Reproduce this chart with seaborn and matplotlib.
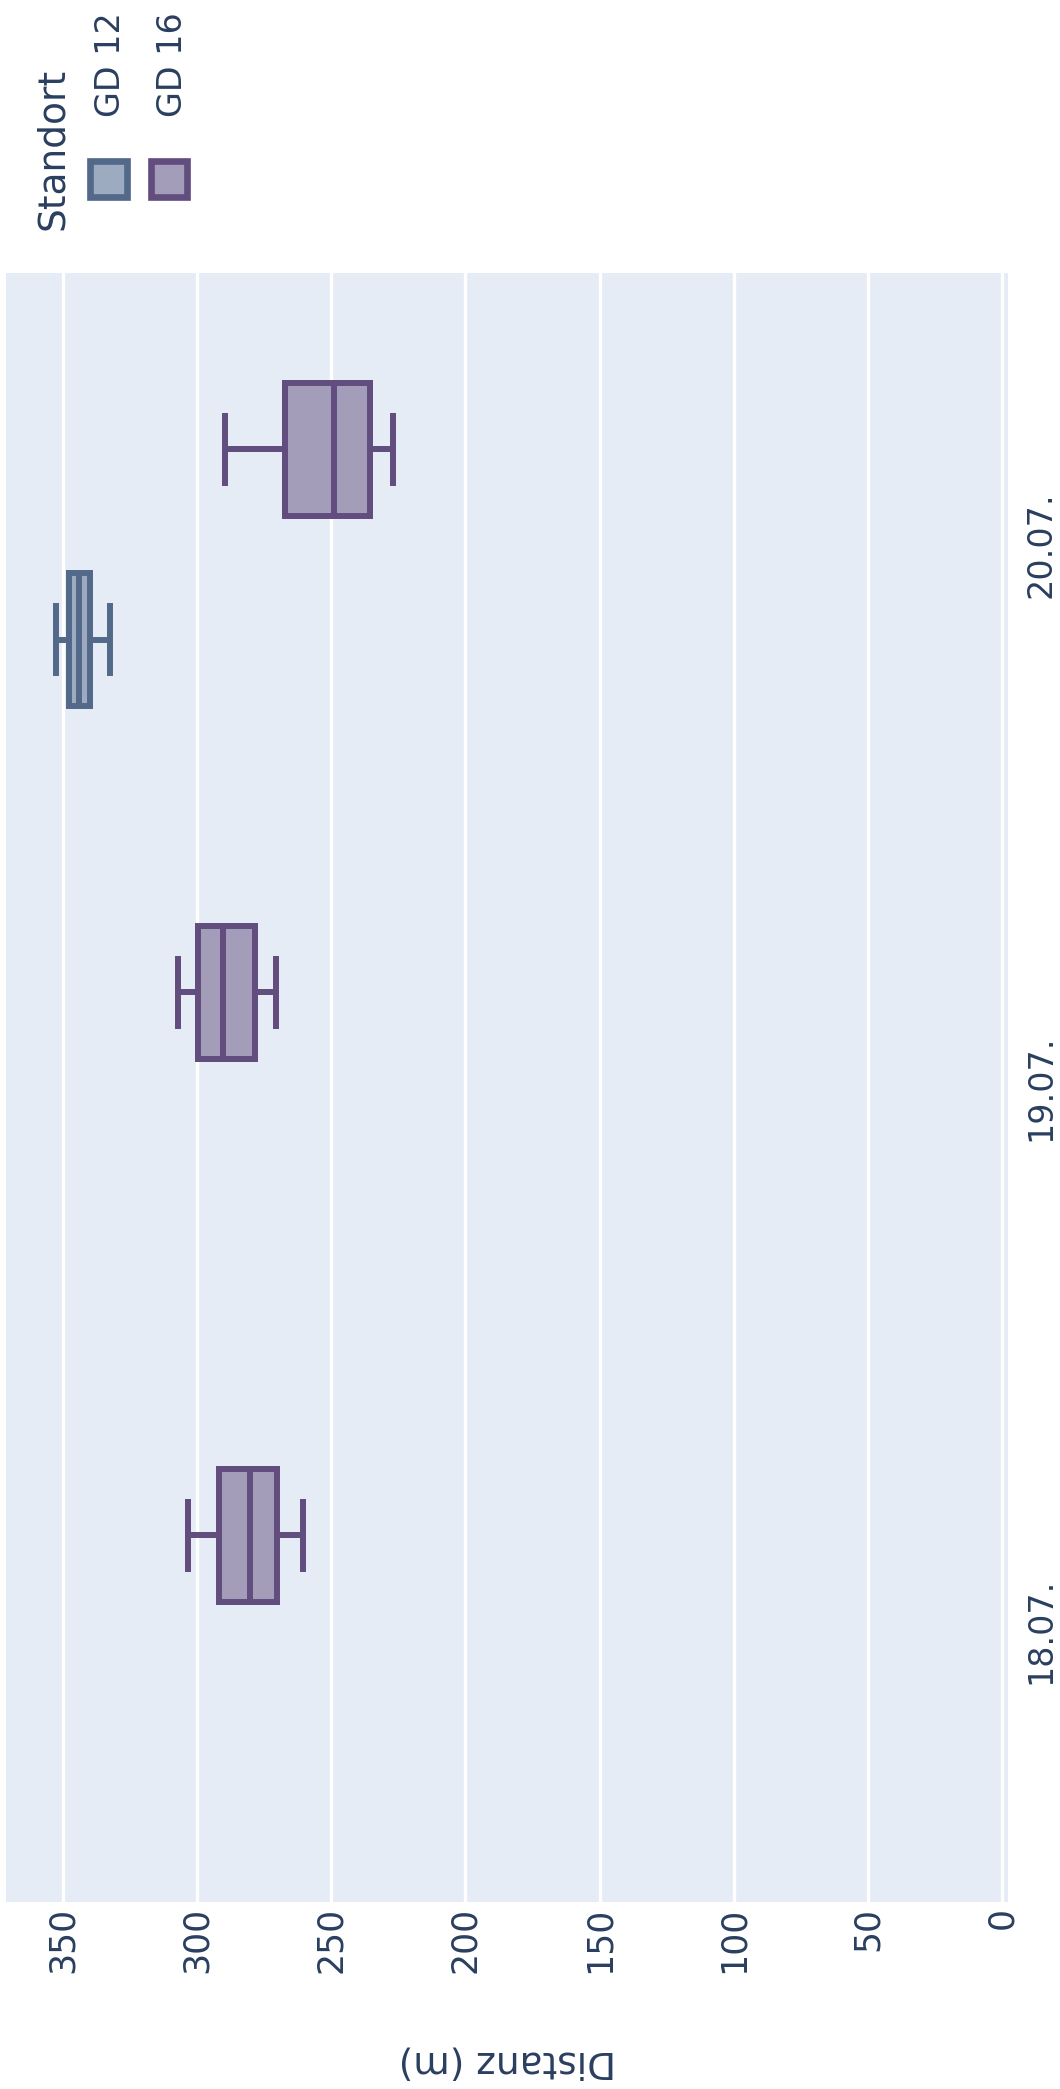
import numpy as np
import pandas as pd
import matplotlib
matplotlib.use("Agg")
import matplotlib.pyplot as plt
from matplotlib.patches import Rectangle
import seaborn as sns

# ---- data ----
dates = ["18.07.", "19.07.", "20.07."]
standorte = ["GD 12", "GD 16"]

# five-number summaries per box: (Standort, Datum, min, q1, median, q3, max)
box_standort = ["GD 16", "GD 16", "GD 16", "GD 12"]
box_datum = ["18.07.", "19.07.", "20.07.", "20.07."]
box_min = [260.4, 270.8, 227.1, 332.7]
box_q1 = [270.3, 278.4, 235.4, 340.0]
box_median = [280.5, 290.3, 249.0, 344.1]
box_q3 = [291.8, 299.8, 267.1, 347.9]
box_max = [303.6, 307.0, 289.6, 352.6]

x_ticks = [0, 50, 100, 150, 200, 250, 300, 350]

# ---- styling ----
bg = "#e5ecf6"
text_color = "#2a3f5f"
edge_colors = {"GD 12": "#52698a", "GD 16": "#614d7e"}


def mix(c, alpha=0.5):
    a = np.array(matplotlib.colors.to_rgb(c))
    b = np.array(matplotlib.colors.to_rgb(bg))
    return tuple(alpha * a + (1 - alpha) * b)


fill_colors = {k: mix(v) for k, v in edge_colors.items()}

rows = []
for s, d, a, b, c, e, f in zip(box_standort, box_datum, box_min, box_q1,
                               box_median, box_q3, box_max):
    for v in (a, b, c, e, f):
        rows.append({"Standort": s, "Datum": d, "Distanz": v})
df = pd.DataFrame(rows)

W, H = 1060, 2089
fig = plt.figure(figsize=(W / 100, H / 100), dpi=100)
fig.patch.set_facecolor("white")
left, right, top, bottom = 6, 1008, 273, 1902
ax = fig.add_axes([left / W, 1 - bottom / H, (right - left) / W, (bottom - top) / H])
ax.set_facecolor(bg)

for s in standorte:
    sub = df[df["Standort"] == s]
    sns.boxplot(data=sub, x="Distanz", y="Datum", hue="Standort",
                hue_order=standorte, order=dates, orient="h", dodge=True,
                width=0.7, gap=0.3, whis=(0, 100), saturation=1,
                palette=fill_colors, linecolor=edge_colors[s], linewidth=4.3,
                legend=False, ax=ax)

ax.set_xlim(371.3, -2.3)
ax.set_ylim(-0.5, 2.5)
ax.set_axisbelow(True)
ax.grid(axis="x", color="white", linewidth=2.4)
ax.grid(axis="y", visible=False)
for sp in ax.spines.values():
    sp.set_visible(False)

ax.set_xticks(x_ticks)
ax.set_xticklabels([str(t) for t in x_ticks])
ax.tick_params(axis="x", length=0, pad=3.5, labelsize=25, labelcolor=text_color,
               labelrotation=90)

ax.yaxis.tick_right()
ax.set_yticks(range(len(dates)))
ax.set_yticklabels(dates)
ax.tick_params(axis="y", length=0, pad=12, labelsize=24, labelcolor=text_color,
               labelrotation=90)
for lab in ax.get_yticklabels():
    lab.set_va("center")
ax.set_ylabel("")

ax.set_xlabel("Distanz (m)", fontsize=27, color=text_color, rotation=180)
ax.xaxis.set_label_coords(0.5, -0.0982)
ax.xaxis.label.set_va("center")
ax.xaxis.label.set_ha("center")

# ---- legend (rotated like the whole chart) ----
def fx(px):
    return px / W


def fy(py):
    return 1 - py / H


fig.text(fx(63), fy(230), "Standort", rotation=90, rotation_mode="anchor",
         ha="left", va="baseline", fontsize=27, color=text_color)
legend_items = [("GD 12", 108.5, 120), ("GD 16", 169, 182)]
for name, cx, bx in legend_items:
    size = 36.5
    fig.patches.append(Rectangle((fx(cx - size / 2), fy(179 + size / 2)),
                                 size / W, size / H, transform=fig.transFigure,
                                 facecolor=fill_colors[name],
                                 edgecolor=edge_colors[name], linewidth=4.8))
    fig.text(fx(bx), fy(117), name, rotation=90, rotation_mode="anchor",
             ha="left", va="baseline", fontsize=24, color=text_color)

fig.savefig("out.png", dpi=100, facecolor="white")
